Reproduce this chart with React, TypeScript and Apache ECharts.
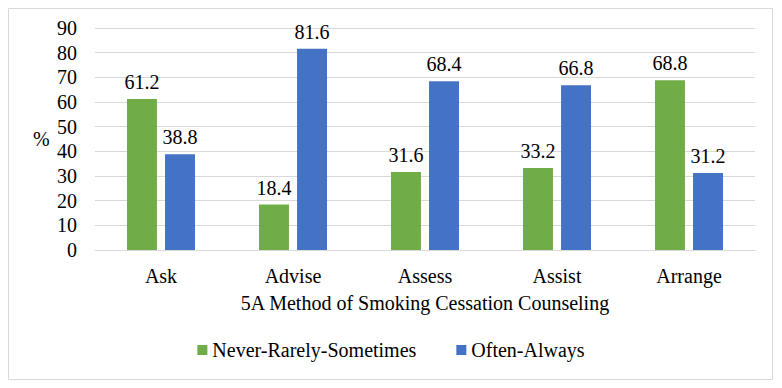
import React, { useEffect, useRef } from "react";
import * as echarts from "echarts";

const categories = ["Ask", "Advise", "Assess", "Assist", "Arrange"];
const neverRarelySometimes = [61.2, 18.4, 31.6, 33.2, 68.8];
const oftenAlways = [38.8, 81.6, 68.4, 66.8, 31.2];
const seriesNames = ["Never-Rarely-Sometimes", "Often-Always"];

const FONT = "Times New Roman, Liberation Serif, serif";

export default function App() {
  const ref = useRef<HTMLDivElement>(null);

  useEffect(() => {
    document.body.style.margin = "0";
    const chart = echarts.init(ref.current!, null, { renderer: "svg" });
    const label = {
      show: true,
      position: "top" as const,
      color: "#000",
      fontFamily: FONT,
      fontSize: 20,
      distance: 7,
    };
    chart.setOption({
      animation: false,
      backgroundColor: "#fff",
      textStyle: { fontFamily: FONT },
      graphic: [
        {
          type: "rect",
          shape: { x: 8.5, y: 8.5, width: 764, height: 371 },
          style: { fill: "none", stroke: "#d9d9d9", lineWidth: 1 },
          silent: true,
        },
        {
          type: "text",
          x: 33,
          y: 129,
          style: { text: "%", fontFamily: FONT, fontSize: 20, fill: "#000" },
        },
      ],
      grid: { left: 95, right: 27, top: 28, bottom: 138 },
      legend: {
        bottom: 23,
        left: "center",
        itemWidth: 10,
        itemHeight: 10,
        itemGap: 40,
        icon: "rect",
        textStyle: { fontFamily: FONT, fontSize: 20, color: "#000" },
        data: seriesNames,
      },
      xAxis: {
        type: "category",
        data: categories,
        name: "5A Method of Smoking Cessation Counseling",
        nameLocation: "middle",
        nameGap: 43,
        nameTextStyle: { fontFamily: FONT, fontSize: 20, color: "#000" },
        axisLine: { lineStyle: { color: "#d9d9d9" } },
        axisTick: { show: false },
        axisLabel: { fontFamily: FONT, fontSize: 20, color: "#000", margin: 16 },
      },
      yAxis: {
        type: "value",
        min: 0,
        max: 90,
        interval: 10,
        axisLine: { show: false },
        axisTick: { show: false },
        splitLine: { lineStyle: { color: "#d9d9d9" } },
        axisLabel: { fontFamily: FONT, fontSize: 20, color: "#000", margin: 18 },
      },
      series: [
        {
          name: seriesNames[0],
          type: "bar",
          data: neverRarelySometimes,
          itemStyle: { color: "#70AD47" },
          barWidth: "22.7%",
          barGap: "27%",
          label,
        },
        {
          name: seriesNames[1],
          type: "bar",
          data: oftenAlways,
          itemStyle: { color: "#4472C4" },
          barWidth: "22.7%",
          label,
        },
      ],
    });
    return () => chart.dispose();
  }, []);

  return <div ref={ref} style={{ width: 782, height: 388 }} />;
}
